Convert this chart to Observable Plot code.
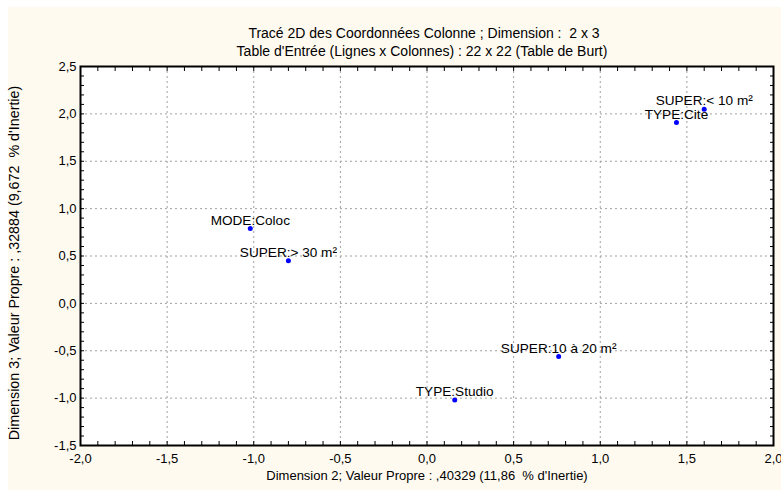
<!DOCTYPE html>
<html>
<head>
<meta charset="utf-8">
<script src="https://cdn.jsdelivr.net/npm/d3@7"></script>
<script src="https://cdn.jsdelivr.net/npm/@observablehq/plot@0.6"></script>
<style>
  html, body { margin: 0; padding: 0; background: #fff; }
  svg { display: block; box-shadow: inset 8px 7px 0 0 #fff; }
</style>
</head>
<body>
<div id="chart"></div>
<script>
// ---- data ----
const labels = ["MODE:Coloc", "SUPER:> 30 m²", "SUPER:10 à 20 m²", "TYPE:Studio", "SUPER:< 10 m²", "TYPE:Cite"];
const dim2 = [-1.02, -0.80, 0.76, 0.16, 1.60, 1.44];
const dim3 = [0.79, 0.45, -0.56, -1.02, 2.05, 1.91];
const xTicks = [-2, -1.5, -1, -0.5, 0, 0.5, 1, 1.5, 2];
const yTicks = [-1.5, -1, -0.5, 0, 0.5, 1, 1.5, 2, 2.5];
const title1 = "Tracé 2D des Coordonnées Colonne ; Dimension :  2 x 3";
const title2 = "Table d'Entrée (Lignes x Colonnes) : 22 x 22 (Table de Burt)";
const xTitle = "Dimension 2; Valeur Propre : ,40329 (11,86  % d'Inertie)";
const yTitle = "Dimension 3; Valeur Propre : ,32884 (9,672  % d'Inertie)";

const points = labels.map((l, i) => ({label: l, x: dim2[i], y: dim3[i]}));
const xMinor = d3.range(-20, 21).map(i => i / 10);
const yMinor = d3.range(-15, 26).map(i => i / 10);
const fmt = d => d.toFixed(1).replace(".", ",");

const chart = Plot.plot({
  width: 781,
  height: 490,
  marginLeft: 80,
  marginRight: 8,
  marginTop: 66,
  marginBottom: 45,
  style: {background: "floralwhite", fontFamily: "'Liberation Sans', Arial, sans-serif", fontSize: "13px", color: "black"},
  x: {domain: [-2, 2]},
  y: {domain: [-1.5, 2.5]},
  marks: [
    Plot.frame({fill: "white"}),
    Plot.gridX(xTicks, {stroke: "#a0a0a0", strokeOpacity: 1, strokeDasharray: "2,3"}),
    Plot.gridY(yTicks, {stroke: "#a0a0a0", strokeOpacity: 1, strokeDasharray: "2,3"}),
    // inward minor ticks on all four sides
    Plot.axisX(xMinor, {anchor: "bottom", tickSize: 4, dy: -4, fill: "none", label: null}),
    Plot.axisX(xMinor, {anchor: "top", tickSize: 4, dy: 4, fill: "none", label: null}),
    Plot.axisY(yMinor, {anchor: "left", tickSize: 4, dx: 4, fill: "none", label: null}),
    Plot.axisY(yMinor, {anchor: "right", tickSize: 4, dx: -4, fill: "none", label: null}),
    // tick labels
    Plot.axisX(xTicks, {anchor: "bottom", tickSize: 0, tickPadding: 8, tickFormat: fmt, label: null}),
    Plot.axisY(yTicks, {anchor: "left", tickSize: 0, tickPadding: 4, tickFormat: fmt, label: null}),
    Plot.frame({stroke: "black", strokeWidth: 2}),
    // points and labels
    Plot.dot(points, {x: "x", y: "y", r: 2.5, fill: "#0000ff"}),
    Plot.text(points, {x: "x", y: "y", text: "label", dy: -8, fill: "black", fontSize: 13.6}),
    // titles
    Plot.text([title1], {frameAnchor: "top", text: d => d, dx: -3, dy: -38, fontSize: 14}),
    Plot.text([title2], {frameAnchor: "top", text: d => d, dx: -5, dy: -20, fontSize: 14}),
    Plot.text([xTitle], {frameAnchor: "bottom", text: d => d, dy: 34}),
    Plot.text([yTitle], {frameAnchor: "left", textAnchor: "middle", text: d => d, rotate: -90, dx: -66, dy: 7, fontSize: 14.3})
  ]
});
document.getElementById("chart").appendChild(chart);
</script>
</body>
</html>
